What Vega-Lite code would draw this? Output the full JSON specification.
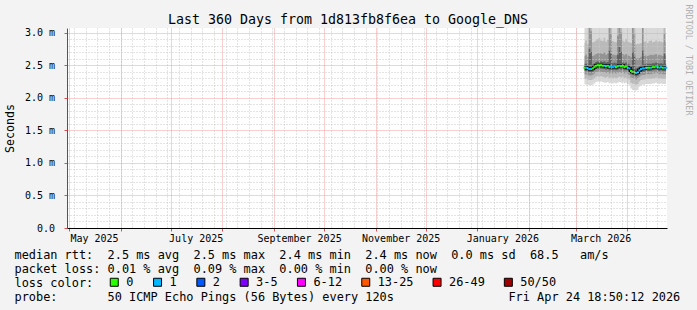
{
  "$schema": "https://vega.github.io/schema/vega-lite/v6.json",
  "width": 600,
  "height": 200,
  "autosize": {"type": "none"},
  "padding": {"left": 67, "top": 28, "right": 30, "bottom": 82},
  "background": "#f3f3f3",
  "config": {
    "font": "DejaVu Sans Mono",
    "view": {"fill": "white", "stroke": null}
  },
  "title": {
    "text": "Last 360 Days from 1d813fb8f6ea to Google_DNS",
    "font": "DejaVu Sans Mono",
    "fontSize": 13.3,
    "fontWeight": "normal",
    "color": "black",
    "anchor": "middle",
    "frame": "group",
    "dx": -19,
    "baseline": "alphabetic",
    "offset": -33
  },
  "data": {
    "values": [
      {"t": "2026-03-06T06:00:00Z", "med": 2.46, "loss": "0", "lo1": 2.21, "lo2": 2.29, "lo3": 2.36, "lo4": 2.41, "hi4": 2.52, "hi3": 2.64, "hi2": 2.84, "hi1": 3.07},
      {"t": "2026-03-07T06:00:00Z", "med": 2.46, "loss": "1", "lo1": 2.20, "lo2": 2.29, "lo3": 2.36, "lo4": 2.41, "hi4": 2.52, "hi3": 2.66, "hi2": 2.88, "hi1": 3.07},
      {"t": "2026-03-08T06:00:00Z", "med": 2.45, "loss": "1", "lo1": 2.20, "lo2": 2.28, "lo3": 2.35, "lo4": 2.40, "hi4": 2.51, "hi3": 2.63, "hi2": 2.82, "hi1": 3.07},
      {"t": "2026-03-09T06:00:00Z", "med": 2.44, "loss": "1", "lo1": 2.19, "lo2": 2.27, "lo3": 2.34, "lo4": 2.39, "hi4": 2.75, "hi3": 3.07, "hi2": 3.07, "hi1": 3.07},
      {"t": "2026-03-10T06:00:00Z", "med": 2.44, "loss": "1", "lo1": 2.19, "lo2": 2.27, "lo3": 2.34, "lo4": 2.39, "hi4": 2.70, "hi3": 3.02, "hi2": 3.07, "hi1": 3.07},
      {"t": "2026-03-11T06:00:00Z", "med": 2.45, "loss": "0", "lo1": 2.20, "lo2": 2.28, "lo3": 2.35, "lo4": 2.40, "hi4": 2.51, "hi3": 2.64, "hi2": 2.85, "hi1": 3.07},
      {"t": "2026-03-12T06:00:00Z", "med": 2.47, "loss": "0", "lo1": 2.22, "lo2": 2.30, "lo3": 2.37, "lo4": 2.42, "hi4": 2.53, "hi3": 2.65, "hi2": 2.86, "hi1": 3.07},
      {"t": "2026-03-13T06:00:00Z", "med": 2.49, "loss": "0", "lo1": 2.24, "lo2": 2.32, "lo3": 2.39, "lo4": 2.44, "hi4": 2.55, "hi3": 2.67, "hi2": 2.88, "hi1": 3.07},
      {"t": "2026-03-14T06:00:00Z", "med": 2.50, "loss": "0", "lo1": 2.25, "lo2": 2.33, "lo3": 2.40, "lo4": 2.45, "hi4": 2.56, "hi3": 2.68, "hi2": 2.90, "hi1": 3.07},
      {"t": "2026-03-15T06:00:00Z", "med": 2.49, "loss": "0", "lo1": 2.24, "lo2": 2.32, "lo3": 2.39, "lo4": 2.44, "hi4": 2.55, "hi3": 2.69, "hi2": 2.92, "hi1": 3.07},
      {"t": "2026-03-16T06:00:00Z", "med": 2.50, "loss": "0", "lo1": 2.25, "lo2": 2.33, "lo3": 2.40, "lo4": 2.45, "hi4": 2.56, "hi3": 2.68, "hi2": 2.88, "hi1": 3.07},
      {"t": "2026-03-17T06:00:00Z", "med": 2.49, "loss": "0", "lo1": 2.24, "lo2": 2.32, "lo3": 2.39, "lo4": 2.44, "hi4": 2.55, "hi3": 2.67, "hi2": 2.87, "hi1": 3.07},
      {"t": "2026-03-18T06:00:00Z", "med": 2.49, "loss": "1", "lo1": 2.23, "lo2": 2.31, "lo3": 2.39, "lo4": 2.44, "hi4": 2.56, "hi3": 2.70, "hi2": 2.92, "hi1": 3.07},
      {"t": "2026-03-19T06:00:00Z", "med": 2.48, "loss": "0", "lo1": 2.23, "lo2": 2.31, "lo3": 2.38, "lo4": 2.43, "hi4": 2.54, "hi3": 2.66, "hi2": 2.86, "hi1": 3.07},
      {"t": "2026-03-20T06:00:00Z", "med": 2.49, "loss": "1", "lo1": 2.24, "lo2": 2.32, "lo3": 2.39, "lo4": 2.44, "hi4": 2.55, "hi3": 2.68, "hi2": 2.89, "hi1": 3.07},
      {"t": "2026-03-21T06:00:00Z", "med": 2.47, "loss": "0", "lo1": 2.22, "lo2": 2.30, "lo3": 2.37, "lo4": 2.42, "hi4": 2.72, "hi3": 3.07, "hi2": 3.07, "hi1": 3.07},
      {"t": "2026-03-22T06:00:00Z", "med": 2.48, "loss": "1", "lo1": 2.23, "lo2": 2.31, "lo3": 2.38, "lo4": 2.43, "hi4": 2.68, "hi3": 2.98, "hi2": 3.07, "hi1": 3.07},
      {"t": "2026-03-23T06:00:00Z", "med": 2.47, "loss": "1", "lo1": 2.22, "lo2": 2.30, "lo3": 2.37, "lo4": 2.42, "hi4": 2.53, "hi3": 2.66, "hi2": 2.87, "hi1": 3.07},
      {"t": "2026-03-24T06:00:00Z", "med": 2.48, "loss": "1", "lo1": 2.23, "lo2": 2.31, "lo3": 2.38, "lo4": 2.43, "hi4": 2.54, "hi3": 2.66, "hi2": 2.86, "hi1": 3.07},
      {"t": "2026-03-25T06:00:00Z", "med": 2.47, "loss": "0", "lo1": 2.22, "lo2": 2.30, "lo3": 2.37, "lo4": 2.42, "hi4": 2.53, "hi3": 2.65, "hi2": 2.85, "hi1": 3.07},
      {"t": "2026-03-26T06:00:00Z", "med": 2.48, "loss": "0", "lo1": 2.23, "lo2": 2.31, "lo3": 2.38, "lo4": 2.43, "hi4": 2.66, "hi3": 2.95, "hi2": 3.07, "hi1": 3.07},
      {"t": "2026-03-27T06:00:00Z", "med": 2.49, "loss": "1", "lo1": 2.24, "lo2": 2.32, "lo3": 2.39, "lo4": 2.44, "hi4": 2.78, "hi3": 3.07, "hi2": 3.07, "hi1": 3.07},
      {"t": "2026-03-28T06:00:00Z", "med": 2.48, "loss": "0", "lo1": 2.23, "lo2": 2.31, "lo3": 2.38, "lo4": 2.43, "hi4": 2.70, "hi3": 3.00, "hi2": 3.07, "hi1": 3.07},
      {"t": "2026-03-29T06:00:00Z", "med": 2.49, "loss": "0", "lo1": 2.24, "lo2": 2.32, "lo3": 2.39, "lo4": 2.44, "hi4": 2.55, "hi3": 2.67, "hi2": 2.88, "hi1": 3.07},
      {"t": "2026-03-30T06:00:00Z", "med": 2.47, "loss": "0", "lo1": 2.22, "lo2": 2.30, "lo3": 2.37, "lo4": 2.42, "hi4": 2.53, "hi3": 2.65, "hi2": 2.86, "hi1": 3.07},
      {"t": "2026-03-31T06:00:00Z", "med": 2.48, "loss": "0", "lo1": 2.23, "lo2": 2.31, "lo3": 2.38, "lo4": 2.43, "hi4": 2.54, "hi3": 2.67, "hi2": 2.90, "hi1": 3.07},
      {"t": "2026-04-01T06:00:00Z", "med": 2.46, "loss": "1", "lo1": 2.21, "lo2": 2.29, "lo3": 2.36, "lo4": 2.41, "hi4": 2.52, "hi3": 2.65, "hi2": 2.86, "hi1": 3.07},
      {"t": "2026-04-02T06:00:00Z", "med": 2.45, "loss": "1", "lo1": 2.20, "lo2": 2.28, "lo3": 2.35, "lo4": 2.40, "hi4": 2.51, "hi3": 2.64, "hi2": 2.85, "hi1": 3.07},
      {"t": "2026-04-03T06:00:00Z", "med": 2.41, "loss": "0", "lo1": 2.14, "lo2": 2.23, "lo3": 2.31, "lo4": 2.36, "hi4": 2.48, "hi3": 2.62, "hi2": 2.84, "hi1": 3.07},
      {"t": "2026-04-04T06:00:00Z", "med": 2.40, "loss": "0", "lo1": 2.12, "lo2": 2.22, "lo3": 2.30, "lo4": 2.35, "hi4": 2.70, "hi3": 3.07, "hi2": 3.07, "hi1": 3.07},
      {"t": "2026-04-05T06:00:00Z", "med": 2.39, "loss": "0", "lo1": 2.11, "lo2": 2.21, "lo3": 2.29, "lo4": 2.34, "hi4": 2.65, "hi3": 2.98, "hi2": 3.07, "hi1": 3.07},
      {"t": "2026-04-06T06:00:00Z", "med": 2.38, "loss": "1", "lo1": 2.11, "lo2": 2.20, "lo3": 2.28, "lo4": 2.33, "hi4": 2.45, "hi3": 2.60, "hi2": 2.82, "hi1": 3.07},
      {"t": "2026-04-07T06:00:00Z", "med": 2.39, "loss": "1", "lo1": 2.12, "lo2": 2.21, "lo3": 2.29, "lo4": 2.34, "hi4": 2.46, "hi3": 2.60, "hi2": 2.83, "hi1": 3.07},
      {"t": "2026-04-08T06:00:00Z", "med": 2.42, "loss": "1", "lo1": 2.17, "lo2": 2.25, "lo3": 2.32, "lo4": 2.37, "hi4": 2.48, "hi3": 2.61, "hi2": 2.83, "hi1": 3.07},
      {"t": "2026-04-09T06:00:00Z", "med": 2.44, "loss": "1", "lo1": 2.19, "lo2": 2.27, "lo3": 2.34, "lo4": 2.39, "hi4": 2.50, "hi3": 2.63, "hi2": 2.84, "hi1": 3.07},
      {"t": "2026-04-10T06:00:00Z", "med": 2.45, "loss": "1", "lo1": 2.20, "lo2": 2.28, "lo3": 2.35, "lo4": 2.40, "hi4": 2.72, "hi3": 3.07, "hi2": 3.07, "hi1": 3.07},
      {"t": "2026-04-11T06:00:00Z", "med": 2.45, "loss": "1", "lo1": 2.20, "lo2": 2.28, "lo3": 2.35, "lo4": 2.40, "hi4": 2.51, "hi3": 2.64, "hi2": 2.86, "hi1": 3.07},
      {"t": "2026-04-12T06:00:00Z", "med": 2.46, "loss": "1", "lo1": 2.21, "lo2": 2.29, "lo3": 2.36, "lo4": 2.41, "hi4": 2.52, "hi3": 2.65, "hi2": 2.86, "hi1": 3.07},
      {"t": "2026-04-13T06:00:00Z", "med": 2.46, "loss": "0", "lo1": 2.21, "lo2": 2.29, "lo3": 2.36, "lo4": 2.41, "hi4": 2.52, "hi3": 2.64, "hi2": 2.84, "hi1": 3.07},
      {"t": "2026-04-14T06:00:00Z", "med": 2.46, "loss": "0", "lo1": 2.21, "lo2": 2.29, "lo3": 2.36, "lo4": 2.41, "hi4": 2.52, "hi3": 2.65, "hi2": 2.87, "hi1": 3.07},
      {"t": "2026-04-15T06:00:00Z", "med": 2.46, "loss": "1", "lo1": 2.21, "lo2": 2.29, "lo3": 2.36, "lo4": 2.41, "hi4": 2.52, "hi3": 2.66, "hi2": 2.88, "hi1": 3.07},
      {"t": "2026-04-16T06:00:00Z", "med": 2.47, "loss": "0", "lo1": 2.22, "lo2": 2.30, "lo3": 2.37, "lo4": 2.42, "hi4": 2.53, "hi3": 2.65, "hi2": 2.85, "hi1": 3.07},
      {"t": "2026-04-17T06:00:00Z", "med": 2.47, "loss": "0", "lo1": 2.22, "lo2": 2.30, "lo3": 2.37, "lo4": 2.42, "hi4": 2.53, "hi3": 2.66, "hi2": 2.86, "hi1": 3.07},
      {"t": "2026-04-18T06:00:00Z", "med": 2.48, "loss": "1", "lo1": 2.23, "lo2": 2.31, "lo3": 2.38, "lo4": 2.43, "hi4": 2.54, "hi3": 2.67, "hi2": 2.88, "hi1": 3.07},
      {"t": "2026-04-19T06:00:00Z", "med": 2.47, "loss": "0", "lo1": 2.22, "lo2": 2.30, "lo3": 2.37, "lo4": 2.42, "hi4": 2.53, "hi3": 2.65, "hi2": 2.85, "hi1": 3.07},
      {"t": "2026-04-20T06:00:00Z", "med": 2.46, "loss": "1", "lo1": 2.21, "lo2": 2.29, "lo3": 2.36, "lo4": 2.41, "hi4": 2.52, "hi3": 2.66, "hi2": 2.87, "hi1": 3.07},
      {"t": "2026-04-21T06:00:00Z", "med": 2.47, "loss": "1", "lo1": 2.22, "lo2": 2.30, "lo3": 2.37, "lo4": 2.42, "hi4": 2.53, "hi3": 2.65, "hi2": 2.86, "hi1": 3.07},
      {"t": "2026-04-22T06:00:00Z", "med": 2.46, "loss": "0", "lo1": 2.21, "lo2": 2.29, "lo3": 2.36, "lo4": 2.41, "hi4": 2.52, "hi3": 2.64, "hi2": 2.85, "hi1": 3.07},
      {"t": "2026-04-23T06:00:00Z", "med": 2.46, "loss": "1", "lo1": 2.21, "lo2": 2.29, "lo3": 2.36, "lo4": 2.41, "hi4": 2.68, "hi3": 2.98, "hi2": 3.07, "hi1": 3.07},
      {"t": "2026-04-24T06:00:00Z", "med": 2.46, "loss": "1", "lo1": 2.21, "lo2": 2.29, "lo3": 2.36, "lo4": 2.41, "hi4": 2.52, "hi3": 2.65, "hi2": 2.86, "hi1": 3.07}
    ]
  },
  "resolve": {"axis": {"x": "independent", "y": "independent"}},
  "layer": [
    {
      "mark": {"type": "area", "color": "black", "opacity": 0.15, "interpolate": "step"},
      "encoding": {
        "x": {
          "field": "t", "type": "temporal",
          "scale": {"type": "utc", "domain": [
            {"year": 2025, "month": 4, "date": 29, "hours": 18, "minutes": 50, "seconds": 12, "utc": true},
            {"year": 2026, "month": 4, "date": 24, "hours": 18, "minutes": 50, "seconds": 12, "utc": true}
          ]},
          "axis": {
            "orient": "bottom",
            "tickCount": {"interval": "week", "step": 1},
            "grid": true, "gridColor": "#c8c8c8", "gridDash": [1, 2], "gridWidth": 1,
            "labels": false, "ticks": false, "domain": false, "title": null, "zindex": 1
          }
        },
        "y": {
          "field": "lo1", "type": "quantitative",
          "scale": {"domain": [0, 3.07], "nice": false, "zero": true},
          "axis": {
            "orient": "left",
            "values": [0.1, 0.2, 0.3, 0.4, 0.6, 0.7, 0.8, 0.9, 1.1, 1.2, 1.3, 1.4, 1.6, 1.7, 1.8, 1.9, 2.1, 2.2, 2.3, 2.4, 2.6, 2.7, 2.8, 2.9],
            "grid": true, "gridColor": "#c8c8c8", "gridDash": [1, 2], "gridWidth": 1,
            "labels": false, "ticks": false, "domain": false, "title": null, "zindex": 1
          }
        },
        "y2": {"field": "hi1"}
      }
    },
    {
      "mark": {"type": "area", "color": "black", "opacity": 0.14, "interpolate": "step"},
      "encoding": {
        "x": {
          "field": "t", "type": "temporal",
          "axis": {
            "orient": "bottom",
            "tickCount": {"interval": "month", "step": 1},
            "grid": true, "gridColor": "#f0a0a0", "gridDash": [1, 1], "gridWidth": 1,
            "labels": false, "ticks": true, "tickColor": "#e05050", "tickSize": 3,
            "domain": true, "domainColor": "black", "domainWidth": 1,
            "title": null, "zindex": 1
          }
        },
        "y": {
          "field": "lo2", "type": "quantitative",
          "axis": {
            "orient": "right", "labels": false, "ticks": false, "domain": false, "grid": false,
            "title": "RRDTOOL / TOBI OETIKER",
            "titleFont": "DejaVu Sans Mono", "titleFontSize": 8.4, "titleFontWeight": "normal",
            "titleColor": "#b0b0b0", "titleAngle": 90, "titleAlign": "left", "titleBaseline": "middle",
            "titleX": 21, "titleY": -24
          }
        },
        "y2": {"field": "hi2"}
      }
    },
    {
      "mark": {"type": "area", "color": "black", "opacity": 0.2, "interpolate": "step"},
      "encoding": {
        "x": {
          "field": "t", "type": "temporal",
          "axis": {
            "orient": "bottom",
            "values": [
              {"year": 2025, "month": 5, "date": 16, "utc": true},
              {"year": 2025, "month": 7, "date": 16, "utc": true},
              {"year": 2025, "month": 9, "date": 16, "utc": true},
              {"year": 2025, "month": 11, "date": 16, "utc": true},
              {"year": 2026, "month": 1, "date": 16, "utc": true},
              {"year": 2026, "month": 3, "date": 16, "utc": true}
            ],
            "format": "%B %Y",
            "labelFont": "DejaVu Sans Mono", "labelFontSize": 10, "labelColor": "black",
            "labelPadding": 5, "labelAlign": "center", "labelFlush": false, "labelOverlap": false,
            "ticks": false, "grid": false, "domain": false,
            "title": [
              "median\u00a0rtt:\u00a0\u00a02.5\u00a0ms\u00a0avg\u00a0\u00a02.5\u00a0ms\u00a0max\u00a0\u00a02.4\u00a0ms\u00a0min\u00a0\u00a02.4\u00a0ms\u00a0now\u00a0\u00a00.0\u00a0ms\u00a0sd\u00a0\u00a068.5\u00a0\u00a0\u00a0am/s",
              "packet\u00a0loss:\u00a00.01\u00a0%\u00a0avg\u00a0\u00a00.09\u00a0%\u00a0max\u00a0\u00a00.00\u00a0%\u00a0min\u00a0\u00a00.00\u00a0%\u00a0now",
              "loss\u00a0color:",
              "probe:\u00a0\u00a0\u00a0\u00a0\u00a0\u00a0\u00a050\u00a0ICMP\u00a0Echo\u00a0Pings\u00a0(56\u00a0Bytes)\u00a0every\u00a0120s\u00a0\u00a0\u00a0\u00a0\u00a0\u00a0\u00a0\u00a0\u00a0\u00a0\u00a0\u00a0\u00a0\u00a0\u00a0\u00a0Fri\u00a0Apr\u00a024\u00a018:50:12\u00a02026"
            ],
            "titleFont": "DejaVu Sans Mono", "titleFontSize": 11.9, "titleFontWeight": "normal",
            "titleColor": "black", "titleAnchor": "start", "titleAlign": "left",
            "titleBaseline": "alphabetic", "titleX": -53, "titleY": 30.5, "titleLineHeight": 13.9
          }
        },
        "y": {
          "field": "lo3", "type": "quantitative",
          "axis": {
            "orient": "left",
            "values": [0, 0.5, 1, 1.5, 2, 2.5, 3],
            "labelExpr": "datum.value == 0 ? '0.0' : format(datum.value, '.1f') + ' m'",
            "grid": true, "gridColor": "#f0a0a0", "gridDash": [1, 1], "gridWidth": 1,
            "ticks": true, "tickColor": "#e05050", "tickSize": 3,
            "labelFont": "DejaVu Sans Mono", "labelFontSize": 10, "labelColor": "black", "labelPadding": 9.5,
            "domain": true, "domainColor": "#555555", "domainWidth": 1,
            "title": "Seconds",
            "titleFont": "DejaVu Sans Mono", "titleFontSize": 11.6, "titleFontWeight": "normal",
            "titleColor": "black", "titleX": -57, "titleY": 100, "titleAlign": "center", "titleBaseline": "middle",
            "zindex": 1
          }
        },
        "y2": {"field": "hi3"}
      }
    },
    {
      "mark": {"type": "area", "color": "black", "opacity": 0.35, "interpolate": "step"},
      "encoding": {
        "x": {"field": "t", "type": "temporal", "axis": null},
        "y": {"field": "lo4", "type": "quantitative", "axis": null},
        "y2": {"field": "hi4"}
      }
    },
    {
      "mark": {"type": "line", "color": "black", "strokeWidth": 3, "interpolate": "step"},
      "encoding": {
        "x": {"field": "t", "type": "temporal", "axis": null},
        "y": {"field": "med", "type": "quantitative", "axis": null}
      }
    },
    {
      "mark": {"type": "tick", "orient": "horizontal", "size": 2.2, "thickness": 2, "opacity": 1},
      "encoding": {
        "x": {"field": "t", "type": "temporal", "axis": null},
        "y": {"field": "med", "type": "quantitative", "axis": null},
        "color": {
          "field": "loss", "type": "nominal",
          "scale": {
            "domain": ["0", "1", "2", "3-5", "6-12", "13-25", "26-49", "50/50"],
            "range": ["#26ff00", "#00b8ff", "#0059ff", "#7e00ff", "#ff00ff", "#ff5500", "#ff0000", "#a00000"]
          },
          "legend": {
            "orient": "none", "legendX": 41.3, "legendY": 248.3,
            "direction": "horizontal", "columns": 8, "title": null,
            "symbolType": "square", "symbolSize": 64, "symbolStrokeColor": "black", "symbolStrokeWidth": 1,
            "symbolOpacity": 1,
            "labelFont": "DejaVu Sans Mono", "labelFontSize": 11.9, "labelColor": "black",
            "labelOffset": 6, "columnPadding": 16.3, "padding": 0
          }
        }
      }
    }
  ]
}
